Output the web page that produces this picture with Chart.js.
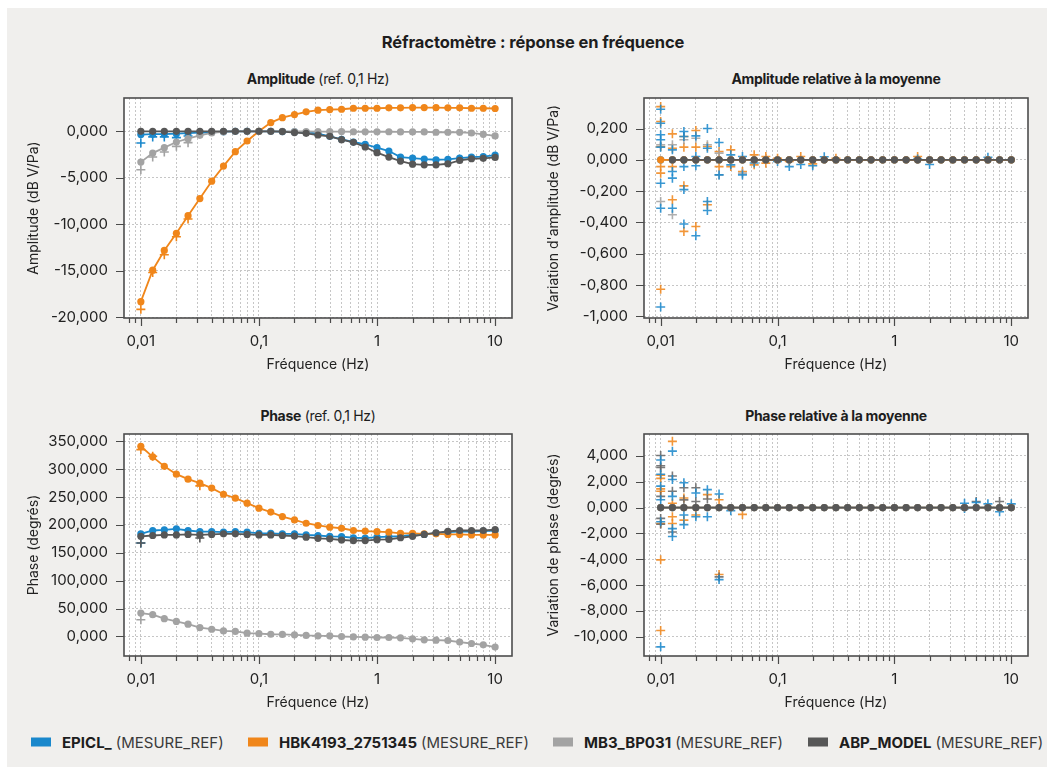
<!DOCTYPE html>
<html lang="fr">
<head>
<meta charset="utf-8">
<title>Réfractomètre : réponse en fréquence</title>
<script src="https://cdn.jsdelivr.net/npm/chart.js@4.4.1/dist/chart.umd.min.js"></script>
<style>
  body { margin: 0; width: 1047px; height: 767px; background: #fff; position: relative; overflow: hidden;
         font-family: Inter, "Noto Sans", sans-serif; color: #1d1d1d; }
  #bg { position: absolute; left: 7px; top: 8px; right: 0; bottom: 0; background: #f0efed; }
  .t { position: absolute; white-space: nowrap; transform: translate(-50%, -50%); }
  .main { font-size: 16.5px; font-weight: 700; letter-spacing: -0.1px; }
  .panel { font-size: 14px; letter-spacing: -0.3px; }
  .panel b { font-weight: 700; }
  canvas { position: absolute; }
  .leg { position: absolute; top: 742px; transform: translateY(-50%); display: flex; align-items: center;
         font-size: 15px; white-space: nowrap; letter-spacing: 0px; }
  .leg i { display: inline-block; width: 20px; height: 9px; margin-right: 11px; }
  .leg b { font-weight: 700; margin-right: 4px; }
  .leg span { color: #3a3a3a; }
</style>
</head>
<body>
<div id="bg"></div>
<div class="t main" style="left:533px; top:42px;">Réfractomètre : réponse en fréquence</div>
<div class="t panel" style="left:318px; top:78px;"><b>Amplitude</b> (ref. 0,1 Hz)</div>
<div class="t panel" style="left:836px; top:78px;"><b>Amplitude relative à la moyenne</b></div>
<div class="t panel" style="left:318px; top:415px;"><b>Phase</b> (ref. 0,1 Hz)</div>
<div class="t panel" style="left:836px; top:415px;"><b>Phase relative à la moyenne</b></div>

<canvas id="ampChart" width="520" height="307" style="left:0px; top:73px;"></canvas>
<canvas id="ampRelChart" width="527" height="307" style="left:520px; top:73px;"></canvas>
<canvas id="phChart" width="520" height="309" style="left:0px; top:409px;"></canvas>
<canvas id="phRelChart" width="527" height="309" style="left:520px; top:409px;"></canvas>

<div class="leg" style="left:31px;"><i style="background:#1a88cc"></i><b>EPICL_</b><span>(MESURE_REF)</span></div>
<div class="leg" style="left:248px;"><i style="background:#f0861a"></i><b>HBK4193_2751345</b><span>(MESURE_REF)</span></div>
<div class="leg" style="left:553px;"><i style="background:#a3a3a3"></i><b>MB3_BP031</b><span>(MESURE_REF)</span></div>
<div class="leg" style="left:808px;"><i style="background:#575757"></i><b>ABP_MODEL</b><span>(MESURE_REF)</span></div>

<script>
// fréquences (Hz), 1/10 de décade
const freqs = [0.01, 0.0126, 0.0158, 0.02, 0.0251, 0.0316, 0.0398, 0.0501, 0.0631, 0.0794,
  0.1, 0.126, 0.158, 0.2, 0.251, 0.316, 0.398, 0.501, 0.631, 0.794,
  1, 1.26, 1.58, 2, 2.51, 3.16, 3.98, 5.01, 6.31, 7.94, 10];

// graduations
const freqTicks = [0.008, 0.009, 0.01, 0.02, 0.03, 0.04, 0.05, 0.06, 0.07, 0.08, 0.09,
  0.1, 0.2, 0.3, 0.4, 0.5, 0.6, 0.7, 0.8, 0.9, 1, 2, 3, 4, 5, 6, 7, 8, 9, 10];
const ampTicks = [-20, -15, -10, -5, 0];
const ampRelTicks = [-1, -0.8, -0.6, -0.4, -0.2, 0, 0.2];
const phTicks = [0, 50, 100, 150, 200, 250, 300, 350];
const phRelTicks = [-10, -8, -6, -4, -2, 0, 2, 4];

// amplitude (dB V/Pa), moyenne par capteur
const ampEpicl = [-0.35, -0.3, -0.3, -0.25, -0.2, -0.15, -0.1, -0.05, 0, 0, 0,
  0, -0.03, -0.07, -0.1, -0.25, -0.54, -0.86, -1.15, -1.4, -1.76, -2.12, -2.77, -2.88, -2.99, -3.06, -3.02, -2.88, -2.77, -2.73, -2.55];
const ampHbk = [-18.31, -14.93, -12.81, -10.97, -9.07, -7.23, -5.36, -3.74, -2.19, -1.04, 0,
  0.94, 1.47, 1.8, 2.09, 2.27, 2.34, 2.37, 2.48, 2.48, 2.48, 2.52, 2.52, 2.55, 2.55, 2.55, 2.52, 2.52, 2.48, 2.48, 2.45];
const ampMb3 = [-3.31, -2.34, -1.76, -1.15, -0.79, -0.43, -0.18, -0.05, 0, 0, 0,
  0, 0, -0.02, -0.02, -0.03, -0.03, -0.03, -0.05, -0.05, -0.05, -0.05, -0.07, -0.07, -0.07, -0.1, -0.1, -0.1, -0.18, -0.32, -0.5];
const ampAbp = [0, 0, 0, 0, 0, 0, 0, 0, 0, 0, 0,
  0, -0.03, -0.14, -0.22, -0.4, -0.54, -0.9, -1.19, -1.69, -2.3, -2.77, -3.2, -3.53, -3.6, -3.6, -3.49, -3.13, -2.95, -2.91, -2.81];

// amplitude, mesures individuelles visibles
const ampMesEpicl = [[0.01, -1.26], [0.0126, -0.6], [0.0158, -0.6], [0.02, -0.68], [0.0251, -0.5]];
const ampMesHbk = [[0.01, -19.14], [0.0126, -15.18], [0.0158, -13.27], [0.02, -11.33], [0.0251, -9.42]];
const ampMesMb3 = [[0.01, -4.14], [0.0126, -2.77], [0.0158, -2.23], [0.02, -1.62], [0.0251, -1.22]];

// phase (degrés), moyenne par capteur
const phEpicl = [184, 190, 191, 193, 190, 188, 188, 187, 188, 187, 185,
  185, 184, 184, 182, 181, 179.5, 179, 177, 176.5, 178, 179, 180, 182, 183, 185, 187, 188, 188, 189, 190];
const phHbk = [341, 322, 305, 291, 282, 275, 266, 255, 248, 239, 230,
  223, 215, 209, 203, 199, 196, 194, 190, 189, 188, 187, 185, 185, 184, 184, 183, 183, 182, 182, 182];
const phMb3 = [42, 39, 32, 27, 22, 16, 13, 10, 9, 6, 5,
  4, 3.6, 3, 1.8, 1.2, 1.2, 0, -0.6, -1.2, -1.8, -1.8, -2.4, -4.2, -6, -6.6, -7.2, -10, -12.6, -15, -19];
const phAbp = [179.5, 181, 182, 182, 183, 182, 183, 184, 184, 183, 182,
  182, 181, 180, 178, 176, 175, 173, 172, 172, 173.5, 174, 177, 179.5, 183, 186, 188.5, 190, 190, 190, 191.5];

// phase, mesures individuelles visibles
const phMesEpicl = [[0.01, 167.5]];
const phMesHbk = [[0.01, 335], [0.0126, 323], [0.0316, 270]];
const phMesMb3 = [[0.01, 30]];
const phMesAbp = [[0.01, 167.5], [0.0316, 176.5]];

// écarts à la moyenne (moyennes = 0)
const relZero = [0, 0, 0, 0, 0, 0, 0, 0, 0, 0, 0, 0, 0, 0, 0, 0, 0, 0, 0, 0, 0, 0, 0, 0, 0, 0, 0, 0, 0, 0, 0];
const relZeroAbpAmp = [null, 0, 0, 0, 0, 0, 0, 0, 0, 0, 0, 0, 0, 0, 0, 0, 0, 0, 0, 0, 0, 0, 0, 0, 0, 0, 0, 0, 0, 0, 0];

const ampRelEpicl = [[0.01, 0.323], [0.01, 0.234], [0.01, 0.16], [0.01, 0.128], [0.01, 0.081], [0.01, -0.149], [0.01, -0.309], [0.01, -0.94],
  [0.0126, 0.064], [0.0126, -0.074], [0.0126, -0.117], [0.0126, -0.309],
  [0.0158, 0.181], [0.0158, 0.149], [0.0158, -0.043], [0.0158, -0.19], [0.0158, -0.41],
  [0.02, 0.153], [0.02, 0.021], [0.02, -0.038], [0.02, -0.485],
  [0.0251, 0.2], [0.0251, 0.074], [0.0251, -0.266], [0.0251, -0.323],
  [0.0316, 0.111], [0.0316, -0.096], [0.0398, 0.032], [0.0398, -0.032], [0.0501, 0.021], [0.0501, -0.096],
  [0.0631, -0.02], [0.1, -0.01], [0.126, -0.043], [0.158, -0.03], [0.2, -0.038], [0.251, 0.02], [1.58, 0.005], [2, -0.03], [6.31, 0.017]];
const ampRelHbk = [[0.01, 0.34], [0.01, 0.245], [0.01, 0.085], [0.01, -0.043], [0.01, -0.085], [0.01, -0.826],
  [0.0126, 0.166], [0.0126, 0.074], [0.0126, -0.043], [0.0126, -0.255],
  [0.0158, 0.149], [0.0158, 0.081], [0.0158, -0.166], [0.0158, -0.457],
  [0.02, 0.187], [0.02, 0.081], [0.02, -0.426], [0.0251, 0.085], [0.0251, -0.287],
  [0.0316, 0.053], [0.0316, -0.043], [0.0398, 0.064], [0.0398, -0.043], [0.0501, -0.074],
  [0.0631, 0.032], [0.0631, -0.032], [0.0794, 0.021], [0.0794, -0.021],
  [0.1, 0.01], [0.126, -0.01], [0.158, 0.021], [0.2, -0.026], [0.316, 0.01], [1.58, 0.021]];
const ampRelMb3 = [[0.01, 0.096], [0.01, -0.266], [0.0126, 0.096], [0.0126, -0.351], [0.0158, 0.128],
  [0.02, 0.138], [0.0251, 0.096], [0.0316, 0.043], [0.0316, -0.096], [0.0501, -0.085]];

const phRelEpicl = [[0.01, 3.68], [0.01, 2.58], [0.01, 1.66], [0.01, 0.61], [0.01, -1.1], [0.01, -10.79],
  [0.0126, 4.37], [0.0126, 2.18], [0.0126, 0.87], [0.0126, -1.63], [0.0126, -2.24],
  [0.0158, 1.92], [0.0158, -0.58], [0.0158, -1.32], [0.02, 1.13], [0.02, -0.71],
  [0.0251, 1.39], [0.0251, -0.71], [0.0316, 1.05], [0.0316, -5.58], [0.0398, -0.24],
  [3.98, 0.34], [3.98, -0.08], [5.01, 0.39], [6.31, 0.29], [7.94, -0.32], [10, 0.29]];
const phRelHbk = [[0.01, 2.5], [0.01, 2.26], [0.01, 1.45], [0.01, 1.26], [0.01, -1.24], [0.01, -4.05], [0.01, -9.53],
  [0.0126, 5.13], [0.0126, 0.34], [0.0126, -0.71], [0.0126, -1.24],
  [0.0158, 0.74], [0.0158, -0.97], [0.02, -0.58], [0.0251, 1.0],
  [0.0316, 0.61], [0.0316, -5.18], [0.0501, -0.53]];
const phRelAbp = [[0.01, 4.03], [0.01, 3.24], [0.01, 3.1], [0.01, 0.87], [0.01, -0.84], [0.01, -1.29],
  [0.0126, 2.45], [0.0126, 1.26], [0.0126, -1.89], [0.0158, 1.53], [0.0158, 0.6],
  [0.02, 1.53], [0.02, 0.47], [0.0251, 0.66], [0.0316, -5.37], [5.01, 0.47], [7.94, 0.47]];

const C_EPICL = '#1a88cc', C_HBK = '#f0861a', C_MB3 = '#a3a3a3', C_ABP = '#575757';

Chart.defaults.font.family = 'Inter, "Noto Sans", sans-serif';
Chart.defaults.color = '#222';

const isPow10 = v => Math.abs(Math.log10(v) - Math.round(Math.log10(v))) < 1e-6;
const fmtFreq = v => String(Number(v.toPrecision(1))).replace('.', ',');
const fmtVal = v => (Math.abs(v) < 1e-9 ? 0 : v).toFixed(3).replace('.', ',');

const pts = arr => freqs.map((f, i) => ({ x: f, y: arr[i] }));
const pairs = list => list.map(p => ({ x: p[0], y: p[1] }));

const meanSet = (arr, color, order) => ({
  data: pts(arr), borderColor: color, backgroundColor: color, borderWidth: 1.8,
  pointRadius: 3.6, pointBackgroundColor: color, pointBorderWidth: 0, order: order
});
const mesSet = (list, color, order) => ({
  data: pairs(list), showLine: false, pointStyle: 'cross', pointRadius: 4.5,
  borderColor: color, pointBorderWidth: 1.6, order: order
});
const fade = (hex) => hex + 'dd';

// fond blanc, cadre et petites graduations
const frame = {
  id: 'frame',
  beforeDraw(chart) {
    const a = chart.chartArea, ctx = chart.ctx;
    ctx.save();
    ctx.fillStyle = '#fff';
    ctx.fillRect(a.left, a.top, a.right - a.left, a.bottom - a.top);
    ctx.restore();
  },
  afterDraw(chart) {
    const a = chart.chartArea, ctx = chart.ctx;
    const x = chart.scales.x, y = chart.scales.y;
    ctx.save();
    ctx.strokeStyle = '#4a4a4a';
    ctx.lineWidth = 1.2;
    ctx.beginPath();
    freqTicks.forEach(v => {
      const px = Math.round(x.getPixelForValue(v)) + 0.5;
      const len = isPow10(v) ? 8 : 5;
      ctx.moveTo(px, a.bottom);
      ctx.lineTo(px, a.bottom + len);
    });
    y.ticks.forEach(t => {
      const py = Math.round(y.getPixelForValue(t.value)) + 0.5;
      ctx.moveTo(a.left - 8, py);
      ctx.lineTo(a.left, py);
    });
    ctx.stroke();
    ctx.lineWidth = 1.6;
    ctx.strokeStyle = '#4d4d4d';
    ctx.strokeRect(a.left, a.top, a.right - a.left, a.bottom - a.top);
    ctx.restore();
  }
};

const makeChart = (id, datasets, yMin, yMax, yTicks, yTitle, padRight) => new Chart(document.getElementById(id), {
  type: 'line',
  data: { datasets: datasets },
  options: {
    responsive: false,
    animation: false,
    events: [],
    layout: { padding: { top: 0, right: padRight, bottom: 0, left: 0 } },
    plugins: { legend: { display: false }, tooltip: { enabled: false } },
    scales: {
      x: {
        type: 'logarithmic', min: 0.0072, max: 13.9,
        afterBuildTicks: axis => { axis.ticks = freqTicks.map(v => ({ value: v })); },
        afterFit: s => { s.height = 62; },
        grid: { color: '#c6c6c6', drawTicks: false },
        border: { display: false, dash: [2, 2] },
        ticks: { autoSkip: false, maxRotation: 0, padding: 14, font: { size: 15 },
                 callback: v => isPow10(v) ? fmtFreq(v) : '' },
        title: { display: true, text: 'Fréquence (Hz)', font: { size: 14 }, padding: { top: 0, bottom: 6.6 } }
      },
      y: {
        min: yMin, max: yMax,
        afterBuildTicks: axis => { axis.ticks = yTicks.map(v => ({ value: v })); },
        afterFit: s => { s.width = 124; },
        grid: { color: '#c6c6c6', drawTicks: false },
        border: { display: false, dash: [2, 2] },
        ticks: { autoSkip: false, padding: 16, font: { size: 15 }, callback: v => fmtVal(v) },
        title: { display: true, text: yTitle, font: { size: 14 }, padding: { top: 25, bottom: 0 } }
      }
    }
  },
  plugins: [frame]
});

makeChart('ampChart', [
  meanSet(ampAbp, C_ABP, 1), meanSet(ampMb3, C_MB3, 2), meanSet(ampHbk, C_HBK, 3), meanSet(ampEpicl, C_EPICL, 4),
  mesSet(ampMesMb3, C_MB3, 5), mesSet(ampMesHbk, C_HBK, 6), mesSet(ampMesEpicl, C_EPICL, 7)
], -20.07, 3.58, ampTicks, 'Amplitude (dB V/Pa)', 8);

makeChart('ampRelChart', [
  meanSet(relZeroAbpAmp, C_ABP, 1), meanSet(relZero, C_HBK, 2), meanSet(relZero, C_MB3, 3), meanSet(relZero, C_EPICL, 4),
  mesSet(ampRelEpicl, fade(C_EPICL), 5), mesSet(ampRelMb3, fade(C_MB3), 6), mesSet(ampRelHbk, fade(C_HBK), 7)
], -1.01, 0.395, ampRelTicks, "Variation d'amplitude (dB V/Pa)", 19);

makeChart('phChart', [
  meanSet(phAbp, C_ABP, 1), meanSet(phMb3, C_MB3, 2), meanSet(phHbk, C_HBK, 3), meanSet(phEpicl, C_EPICL, 4),
  mesSet(phMesAbp, C_ABP, 5), mesSet(phMesMb3, C_MB3, 6), mesSet(phMesHbk, C_HBK, 7), mesSet(phMesEpicl, C_EPICL, 8)
], -35, 363, phTicks, 'Phase (degrés)', 8);

makeChart('phRelChart', [
  meanSet(relZero, C_ABP, 1), meanSet(relZero, C_MB3, 2), meanSet(relZero, C_HBK, 3), meanSet(relZero, C_EPICL, 4),
  mesSet(phRelEpicl, fade(C_EPICL), 5), mesSet(phRelAbp, fade('#666666'), 6), mesSet(phRelHbk, fade(C_HBK), 7)
], -11.5, 5.7, phRelTicks, 'Variation de phase (degrés)', 19);
</script>
</body>
</html>
